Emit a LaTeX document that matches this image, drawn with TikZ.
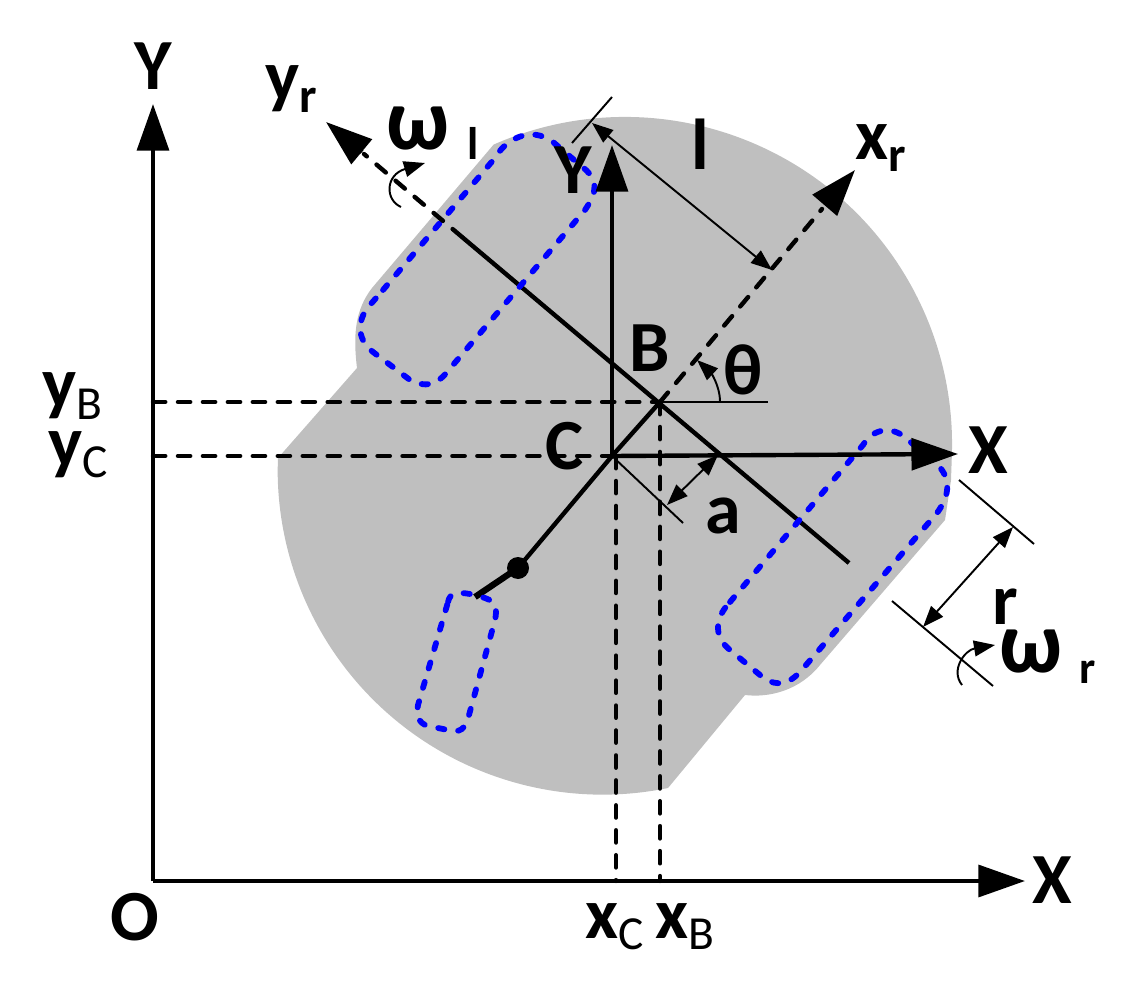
\documentclass[tikz,border=0pt]{standalone}
\usepackage{fontspec}
\setmainfont{Carlito}
\usetikzlibrary{arrows.meta}
\newcommand{\sbs}[1]{\raisebox{-6.5pt}{\fontsize{28}{28}\selectfont #1}}
\newcommand{\sbc}[1]{\raisebox{-6.5pt}{\fontsize{27}{27}\selectfont\mdseries #1}}
\tikzset{
  axisline/.style = {line width=2.5pt, -{Triangle[length=26.5pt,width=18pt]}},
  dashline/.style = {line width=2.5pt, line cap=round, dash pattern=on 7pt off 7.2pt},
  thinline/.style = {line width=1.1pt},
  dimline/.style  = {thinline, {Triangle[length=12pt,width=9pt]}-{Triangle[length=12pt,width=9pt]}},
  turnline/.style = {thinline, -{Triangle[length=12pt,width=9pt]}},
  bluewheel/.style = {draw=blue, line width=3.3pt, line cap=round, dash pattern=on 3.6pt off 7.9pt},
  lab/.style = {inner sep=0pt, anchor=base, font=\fontsize{41}{41}\selectfont\bfseries},
  labw/.style = {lab, anchor=base west},
  omegalab/.style = {lab, font=\fontsize{50}{50}\selectfont\bfseries},
  sublab/.style = {lab, font=\fontsize{26}{26}\selectfont\bfseries}
}
\begin{document}
\begin{tikzpicture}[x=0.02cm, y=-0.02cm]
\useasboundingbox (0,0) rectangle (1124,999);

\fill[black!25] (493.6,144.6) arc[start angle=-113.7, end angle=2, radius=327]
  -- (951,480) -- (945,520) -- (820,665) .. controls (800,690) and (770,698) .. (745,695)
  -- (668,788) arc[start angle=78.4, end angle=180, radius=325]
  -- (278,458) -- (357,368) .. controls (353,335) and (355,310) .. (372,288) -- cycle;

\coordinate (O) at (153,881);
\coordinate (C) at (612,456);
\coordinate (B) at (660,402);
\coordinate (castor) at (518,568);
\coordinate (yend) at (153,104);
\coordinate (xend) at (1025,881);
\coordinate (ytip) at (612,145);
\coordinate (xtip) at (958,454);
\coordinate (xrtip) at (855,170);
\coordinate (yrtip) at (326,122);
\coordinate (axleend) at (849,563);
\coordinate (axlemid) at (462,237);
\coordinate (yB) at (153,402);
\coordinate (yC) at (153,456);
\coordinate (xC) at (616,881);
\coordinate (xB) at (660,881);

\draw[axisline] (O) -- (yend);
\draw[axisline] (O) -- (xend);
\draw[line width=2.5pt] (C) -- (B);
\draw[line width=2.5pt] (C) -- (castor);
\draw[line width=3.6pt] (castor) -- (475,597);
\fill (castor) circle (11);
\draw[line width=2.5pt] (axleend) -- (axlemid);

\draw[bluewheel] (383,290) -- (495,158) .. controls (505,140) and (530,125) .. (553,142)
  -- (580,165) .. controls (600,180) and (597,192) .. (585,210)
  -- (447,372) .. controls (437,385) and (425,388) .. (410,380)
  -- (373,352) .. controls (355,338) and (358,318) .. (370,305) -- cycle;
\draw[bluewheel] (730,602) -- (863,445) .. controls (873,428) and (893,425) .. (908,440)
  -- (935,462) .. controls (952,478) and (950,495) .. (937,513)
  -- (800,672) .. controls (785,688) and (772,685) .. (760,675)
  -- (730,650) .. controls (715,638) and (713,620) .. (730,602) -- cycle;
\draw[bluewheel] (448,602) .. controls (450,592) and (458,592) .. (470,594)
  -- (485,598) .. controls (497,602) and (497,610) .. (495,620)
  -- (469,715) .. controls (465,730) and (460,733) .. (448,730)
  -- (428,726) .. controls (418,723) and (416,715) .. (418,705) -- cycle;

\draw[axisline] (C) -- (ytip);
\draw[axisline] (C) -- (xtip);
\draw[dashline] (axlemid) -- (364,154);
\draw[axisline] (362,152) -- (yrtip);
\draw[dashline] (B) -- (822,209);
\draw[axisline] (825,205) -- (xrtip);
\draw[dashline] (yB) -- (B);
\draw[dashline] (yC) -- (C);
\draw[dashline] (C -| xC) -- (xC);
\draw[dashline] (B) -- (xB);

\draw[thinline] (B) -- (768,402);
\draw[turnline] (720,402) .. controls (720,385) and (710,372) .. (697,360);
\draw[thinline] (C) -- (683,523);
\draw[dimline] (718,455) -- (667,505);
\draw[thinline] (572,143) -- (612,97);
\draw[dimline] (592,123) -- (772,270);
\draw[thinline] (959,480) -- (1034,544);
\draw[thinline] (892,601) -- (993,686);
\draw[dimline] (1013,527) -- (923,627);
\draw[turnline] (962,685) .. controls (950,670) and (965,650) .. (995,645);
\draw[turnline] (401,207) .. controls (385,200) and (385,175) .. (425,163);

\node[lab] (Ytop) at (153,90) {Y};
\node[lab] (Xright) at (1052,903) {X};
\node[lab] (Olab) at (135,940) {O};
\node[labw] (yrlab) at (265,101) {y\sbs{r}};
\node[labw] (xrlab) at (855,160) {x\sbs{r}};
\node[labw] (yBlab) at (42,408) {y\sbc{B}};
\node[labw] (yClab) at (48,466) {y\sbc{C}};
\node[labw] (xClab) at (585,938) {x\sbc{C}};
\node[labw] (xBlab) at (655,938) {x\sbc{B}};
\node[lab] (Yloc) at (573,194) {Y};
\node[lab] (Xloc) at (988,473) {X};
\node[lab] (Blab) at (650,372) {B};
\node[lab] (Clab) at (565,469) {C};
\node[lab] (thlab) at (743,395) {θ};
\node[lab] (alab) at (723,533) {a};
\node[lab] (llab) at (700,170) {l};
\node[lab] (rlab) at (1005,624) {r};
\node[omegalab] (wl) at (418,150) {ω};
\node[sublab] (wlsub) at (473,160) {l};
\node[omegalab] (wr) at (1031,672) {ω};
\node[sublab] (wrsub) at (1088,683) {r};
\end{tikzpicture}
\end{document}
